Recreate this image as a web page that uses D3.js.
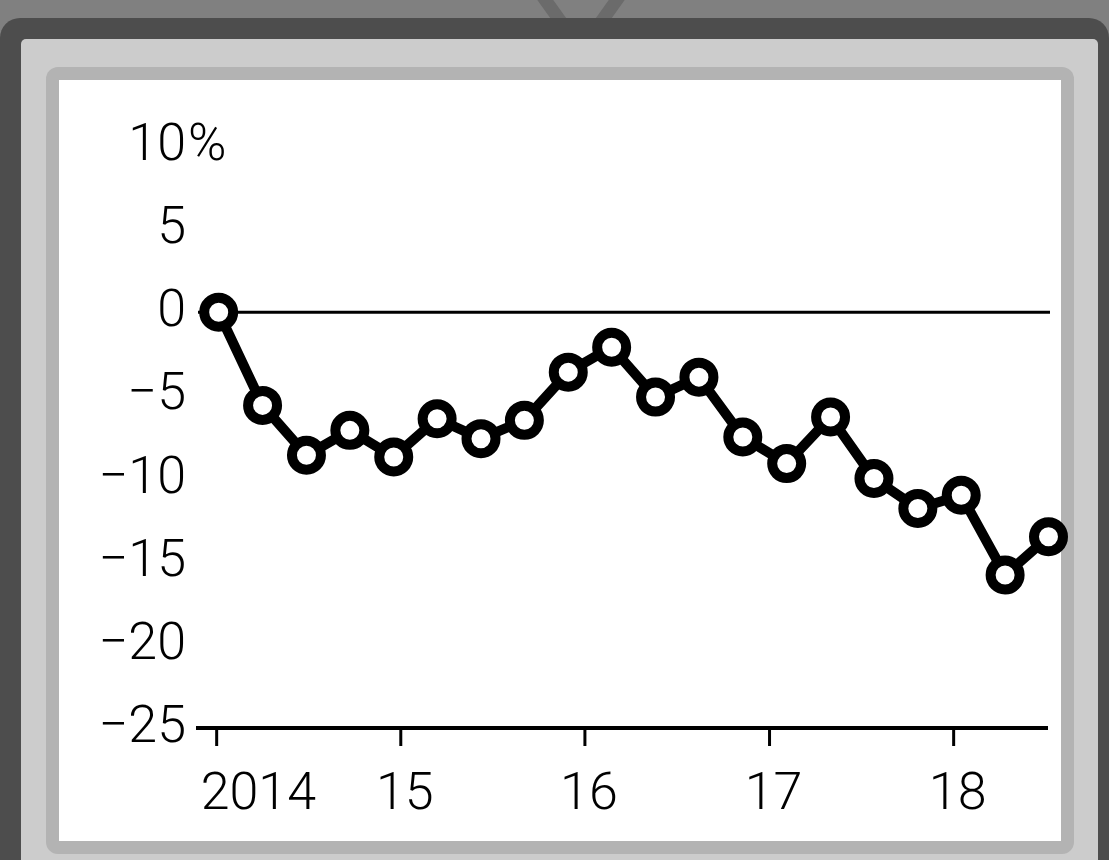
<!DOCTYPE html>
<html>
<head>
<meta charset="utf-8">
<script src="https://cdn.jsdelivr.net/npm/d3@7"></script>
<style>
  html, body { margin: 0; padding: 0; background: #808080; overflow: hidden; }
  svg { display: block; }
  text { font-family: Roboto, "Liberation Sans", Arial, sans-serif; font-weight: 300; fill: #000; }
</style>
</head>
<body>
<svg id="chart" width="1109" height="860"></svg>
<script>
// Observation dates and percentage change since the first reading
const dates = [
  "2014-01-06", "2014-04-03", "2014-06-29", "2014-09-23", "2014-12-19",
  "2015-03-15", "2015-06-10", "2015-09-04", "2015-11-30", "2016-02-24",
  "2016-05-21", "2016-08-15", "2016-11-10", "2017-02-05", "2017-05-03",
  "2017-07-28", "2017-10-23", "2018-01-17", "2018-04-14", "2018-07-09"
];
const values = [
  0, -5.6, -8.6, -7.1, -8.7,
  -6.4, -7.6, -6.5, -3.6, -2.1,
  -5.1, -3.9, -7.5, -9.1, -6.3,
  -10.0, -11.8, -11.0, -15.8, -13.5
];

// Axis ticks
const yTicks = [10, 5, 0, -5, -10, -15, -20, -25];
const xTickDates = ["2014-01-01", "2015-01-01", "2016-01-01", "2017-01-01", "2018-01-01"];
const xTickLabels = ["2014", "15", "16", "17", "18"];
const xDomain = ["2013-11-24", "2018-07-10"];
const yDomain = [-25, 10];

const parse = d3.utcParse("%Y-%m-%d");
const data = dates.map((d, i) => ({ date: parse(d), value: values[i] }));

const svg = d3.select("#chart");

// ---- Television-style frame ----
const frame = svg.append("g");
// antenna legs behind the casing
frame.append("line").attr("x1", 541).attr("y1", -6).attr("x2", 581).attr("y2", 50)
  .attr("stroke", "#6b6b6b").attr("stroke-width", 13);
frame.append("line").attr("x1", 621).attr("y1", -6).attr("x2", 581).attr("y2", 50)
  .attr("stroke", "#6b6b6b").attr("stroke-width", 13);
// outer casing
frame.append("rect").attr("x", 0).attr("y", 18).attr("width", 1109).attr("height", 900)
  .attr("rx", 20).attr("fill", "#4d4d4d");
// inner bezel
frame.append("rect").attr("x", 21).attr("y", 39).attr("width", 1077).attr("height", 900)
  .attr("rx", 5).attr("fill", "#cccccc");
// screen surround
frame.append("rect").attr("x", 46).attr("y", 67).attr("width", 1028).attr("height", 787)
  .attr("rx", 12).attr("fill", "#b3b3b3");
// screen
frame.append("rect").attr("x", 59).attr("y", 80).attr("width", 1002).attr("height", 761)
  .attr("fill", "#ffffff");

// ---- Scales ----
const x = d3.scaleUtc().domain(xDomain.map(parse)).range([197, 1049]);
const y = d3.scaleLinear().domain(yDomain).range([728, 146]);

const g = svg.append("g");

// Y tick labels
const yLab = g.append("g");
yTicks.forEach(v => {
  const label = v < 0 ? "\u2212" + Math.abs(v) : String(v);
  yLab.append("text")
    .attr("x", 186).attr("y", y(v) + 14)
    .attr("text-anchor", "end")
    .attr("font-size", 52)
    .text(label);
  if (v === d3.max(yTicks)) {
    yLab.append("text")
      .attr("x", 188).attr("y", y(v) + 14)
      .attr("text-anchor", "start")
      .attr("font-size", 52)
      .text("%");
  }
});

// zero line
g.append("line")
  .attr("x1", x.range()[0] + 1).attr("x2", x.range()[1] + 1)
  .attr("y1", y(0)).attr("y2", y(0))
  .attr("stroke", "#000").attr("stroke-width", 3);

// X axis
const xAxis = d3.axisBottom(x)
  .tickValues(xTickDates.map(parse))
  .tickFormat((d, i) => xTickLabels[i])
  .tickSizeInner(18).tickSizeOuter(0).tickPadding(26);

const ax = g.append("g").attr("transform", `translate(0,${y(yDomain[0])})`).call(xAxis);
ax.select(".domain").attr("stroke", "#000").attr("stroke-width", 4)
  .attr("d", `M${x.range()[0] - 1},0H${x.range()[1] - 1}`);
ax.selectAll(".tick line").attr("stroke", "#000").attr("stroke-width", 3);
ax.selectAll(".tick text")
  .attr("font-size", 52)
  .attr("font-family", "Roboto, 'Liberation Sans', Arial, sans-serif")
  .attr("font-weight", 300)
  .attr("fill", "#000")
  .attr("dx", 4);
ax.selectAll(".tick text").filter((d, i) => i === 0)
  .attr("text-anchor", "start").attr("x", -16).attr("dx", 0);

// Series line
const line = d3.line().x(d => x(d.date)).y(d => y(d.value));
g.append("path").datum(data)
  .attr("d", line)
  .attr("fill", "none")
  .attr("stroke", "#000")
  .attr("stroke-width", 10)
  .attr("stroke-linejoin", "round");

// Markers
g.selectAll("circle.pt").data(data).join("circle")
  .attr("class", "pt")
  .attr("cx", d => x(d.date)).attr("cy", d => y(d.value))
  .attr("r", 14.5)
  .attr("fill", "#fff")
  .attr("stroke", "#000")
  .attr("stroke-width", 10);
</script>
</body>
</html>
